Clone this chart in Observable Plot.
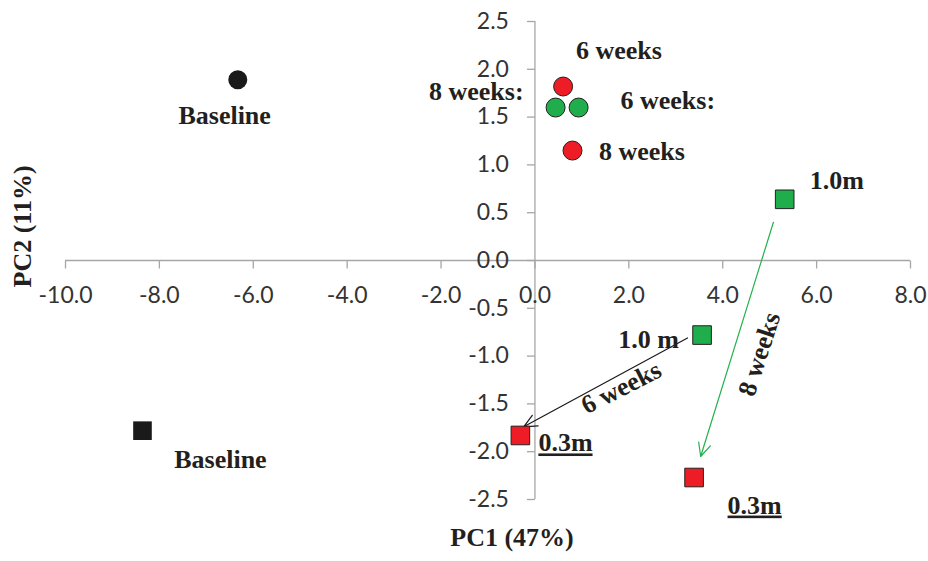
<!DOCTYPE html>
<html>
<head>
<meta charset="utf-8">
<script src="https://cdn.jsdelivr.net/npm/d3@7"></script>
<script src="https://cdn.jsdelivr.net/npm/@observablehq/plot@0.6"></script>
<style>
  html, body { margin: 0; padding: 0; background: #fff; }
  #chart svg { display: block; }
</style>
</head>
<body>
<div id="chart"></div>
<script>
// ---- data ----
const pointNames = ["Baseline circle", "Baseline square", "6w circle a", "8w circle a", "6w circle b", "8w circle b",
                    "1.0m 8w", "1.0m 6w", "0.3m 6w", "0.3m 8w"];
const pointShape = ["circle", "square", "circle", "circle", "circle", "circle", "square", "square", "square", "square"];
const pointGroup = ["base", "base", "red", "green", "green", "red", "green", "green", "red", "red"];
const pc1 = [-6.33, -8.36, 0.60, 0.44, 0.93, 0.80, 5.32, 3.56, -0.31, 3.39];
const pc2 = [1.89, -1.78, 1.82, 1.60, 1.60, 1.15, 0.64, -0.78, -1.83, -2.27];

const xTicks = [-10, -8, -6, -4, -2, 0, 2, 4, 6, 8];
const yTicks = [-2.5, -2, -1.5, -1, -0.5, 0, 0.5, 1, 1.5, 2, 2.5];

// annotation texts and their anchor positions (in PC units)
const labelText = ["Baseline", "Baseline", "6 weeks", "8 weeks:", "6 weeks:", "8 weeks", "1.0m", "1.0 m", "0.3m", "0.3m"];
const labelX = [-6.61, -6.70, 1.79, -1.25, 2.83, 2.28, 6.43, 2.42, 0.65, 4.68];
const labelY = [1.51, -2.08, 2.20, 1.77, 1.67, 1.14, 0.84, -0.83, -1.91, -2.56];

const arrowFrom = [[3.25, -0.81], [5.08, 0.40]];
const arrowTo = [[-0.24, -1.74], [3.53, -2.05]];
const arrowColor = ["#1a1a1a", "#22b14c"];
const arrowText = ["6 weeks", "8 weeks"];
const arrowTextX = [1.84, 4.78];
const arrowTextY = [-1.33, -0.98];
const arrowTextRotate = [-27, -72];

// ---- build ----
const points = pointNames.map((n, i) => ({name: n, shape: pointShape[i], group: pointGroup[i], x: pc1[i], y: pc2[i]}));
const labels = labelText.map((t, i) => ({text: t, x: labelX[i], y: labelY[i]}));
const arrows = arrowFrom.map((f, i) => ({x1: f[0], y1: f[1], x2: arrowTo[i][0], y2: arrowTo[i][1], color: arrowColor[i],
  text: arrowText[i], tx: arrowTextX[i], ty: arrowTextY[i], rotate: arrowTextRotate[i]}));

const fillOf = {base: "#1a1a1a", red: "#ee1c25", green: "#1fae4b"};
const strokeOf = {base: "none", red: "#222", green: "#222"};

const tickDown = {draw(ctx) { ctx.moveTo(0, 0); ctx.lineTo(0, 8); }};
const tickLeft = {draw(ctx) { ctx.moveTo(0, 0); ctx.lineTo(-8, 0); }};

const axisColor = "#a6a6a6";
const tickFont = "Lato, 'Open Sans', sans-serif";
const serif = "'Liberation Serif', 'DejaVu Serif', serif";
const labelSize = 26;

const chart = Plot.plot({
  width: 928,
  height: 561,
  marginLeft: 65,
  marginRight: 18,
  marginTop: 21,
  marginBottom: 62,
  x: {domain: [-10, 8], axis: null},
  y: {domain: [-2.5, 2.5], axis: null},
  style: {background: "#fff", overflow: "visible"},
  marks: [
    // axes crossing at the origin
    Plot.ruleY([0], {x1: -10, x2: 8, stroke: axisColor, strokeWidth: 1.3}),
    Plot.ruleX([0], {y1: -2.5, y2: 2.5, stroke: axisColor, strokeWidth: 1.3}),
    Plot.dot(xTicks, {x: d => d, y: 0, symbol: tickDown, r: 4, fill: "none", stroke: axisColor, strokeWidth: 1.3}),
    Plot.dot(yTicks, {x: 0, y: d => d, symbol: tickLeft, r: 4, fill: "none", stroke: axisColor, strokeWidth: 1.3}),
    Plot.text(xTicks, {x: d => d, y: 0, dy: 35, text: d => d.toFixed(1), fontSize: 23, fontFamily: tickFont, fill: "#333"}),
    Plot.text(yTicks, {x: 0, y: d => d, dx: -26, text: d => d.toFixed(1), textAnchor: "end", fontSize: 23, fontFamily: tickFont, fill: "#333"}),
    // axis titles
    Plot.text(["PC1 (47%)"], {frameAnchor: "bottom", dx: 24, dy: 46, fontSize: labelSize, fontWeight: "bold", fontFamily: serif, fill: "#231f20"}),
    Plot.text(["PC2 (11%)"], {frameAnchor: "left", dx: -43, dy: 27, rotate: -90, fontSize: labelSize, fontWeight: "bold", fontFamily: serif, fill: "#231f20"}),
    // arrows
    Plot.arrow(arrows, {x1: "x1", y1: "y1", x2: "x2", y2: "y2", stroke: "color", strokeWidth: 1.2, headLength: 18, headAngle: 50}),
    // points
    Plot.dot(points.filter(d => d.shape === "circle"), {x: "x", y: "y", r: 9.5, fill: d => fillOf[d.group], stroke: d => strokeOf[d.group], strokeWidth: 1}),
    Plot.dot(points.filter(d => d.shape === "square"), {x: "x", y: "y", symbol: "square", r: 10.5, fill: d => fillOf[d.group], stroke: d => strokeOf[d.group], strokeWidth: 1}),
    // labels
    Plot.text(labels, {x: "x", y: "y", text: "text", fontSize: labelSize, fontWeight: "bold", fontFamily: serif, fill: "#231f20"}),
    Plot.text(arrows, {x: "tx", y: "ty", text: "text", rotate: "rotate", fontSize: labelSize, fontWeight: "bold", fontFamily: serif, fill: "#231f20"})
  ]
});

d3.select(chart).selectAll("text").filter(function() { return this.textContent === "0.3m"; })
  .style("text-decoration", "underline")
  .style("text-decoration-thickness", "2px");

document.getElementById("chart").appendChild(chart);
</script>
</body>
</html>
